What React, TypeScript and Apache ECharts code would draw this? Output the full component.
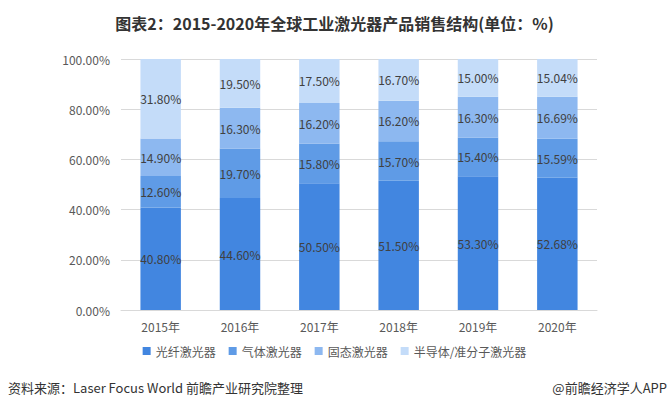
import React, { useEffect, useRef } from "react";
import * as echarts from "echarts";

const categories = ["2015年", "2016年", "2017年", "2018年", "2019年", "2020年"];
const seriesNames = ["光纤激光器", "气体激光器", "固态激光器", "半导体/准分子激光器"];
const fiber = [40.8, 44.6, 50.5, 51.5, 53.3, 52.68];
const gas = [12.6, 19.7, 15.8, 15.7, 15.4, 15.59];
const solid = [14.9, 16.3, 16.2, 16.2, 16.3, 16.69];
const semi = [31.8, 19.5, 17.5, 16.7, 15.0, 15.04];
const yTicks = [0, 20, 40, 60, 80, 100];

const colors = ["#4286e0", "#5f9be6", "#8db8f0", "#c4dcf9"];
const FONT = "'Noto Sans CJK SC', 'Microsoft YaHei', sans-serif";

export default function App() {
  const ref = useRef<HTMLDivElement>(null);
  useEffect(() => {
    if (!ref.current) return;
    const chart = echarts.init(ref.current, undefined, { renderer: "svg" });
    const data = [fiber, gas, solid, semi];
    chart.setOption({
      animation: false,
      backgroundColor: "#ffffff",
      textStyle: { fontFamily: FONT },
      title: {
        text: "图表2：2015-2020年全球工业激光器产品销售结构(单位：%)",
        left: "center",
        top: 10,
        textStyle: { fontSize: 16, fontWeight: "bold", color: "#333333", fontFamily: FONT },
      },
      legend: {
        data: seriesNames,
        bottom: 48,
        left: "center",
        itemWidth: 8,
        itemHeight: 8,
        itemGap: 13,
        icon: "rect",
        textStyle: { fontSize: 12, color: "#595959", fontFamily: FONT },
      },
      grid: { left: 121, right: 72, top: 59, bottom: 100, containLabel: false },
      xAxis: {
        type: "category",
        data: categories,
        axisLine: { lineStyle: { color: "#d9d9d9" } },
        axisTick: { show: false },
        axisLabel: { fontSize: 12, color: "#595959", margin: 10, fontFamily: FONT },
      },
      yAxis: {
        type: "value",
        min: yTicks[0],
        max: yTicks[yTicks.length - 1],
        interval: 20,
        axisLine: { show: false },
        axisTick: { show: false },
        splitLine: { lineStyle: { color: "#d9d9d9" } },
        axisLabel: {
          fontSize: 12,
          color: "#595959",
          margin: 11,
          fontFamily: FONT,
          formatter: (v: number) => v.toFixed(2) + "%",
        },
      },
      series: data.map((d, i) => ({
        name: seriesNames[i],
        type: "bar",
        stack: "total",
        barWidth: "51%",
        data: d,
        itemStyle: { color: colors[i] },
        label: {
          show: true,
          position: "inside",
          fontSize: 12,
          color: "#404040",
          fontFamily: FONT,
          formatter: (p: any) => Number(p.value).toFixed(2) + "%",
        },
      })),
      graphic: [
        {
          type: "text",
          left: 8,
          top: 381,
          style: {
            text: "资料来源：Laser Focus World 前瞻产业研究院整理",
            fontSize: 13,
            fill: "#333333",
            fontFamily: FONT,
          },
        },
        {
          type: "text",
          right: 2,
          top: 381,
          style: {
            text: "@前瞻经济学人APP",
            fontSize: 13,
            fill: "#333333",
            fontFamily: FONT,
          },
        },
      ],
    });
    return () => chart.dispose();
  }, []);
  return <div ref={ref} style={{ width: 669, height: 410, position: "absolute", left: 0, top: 0 }} />;
}
